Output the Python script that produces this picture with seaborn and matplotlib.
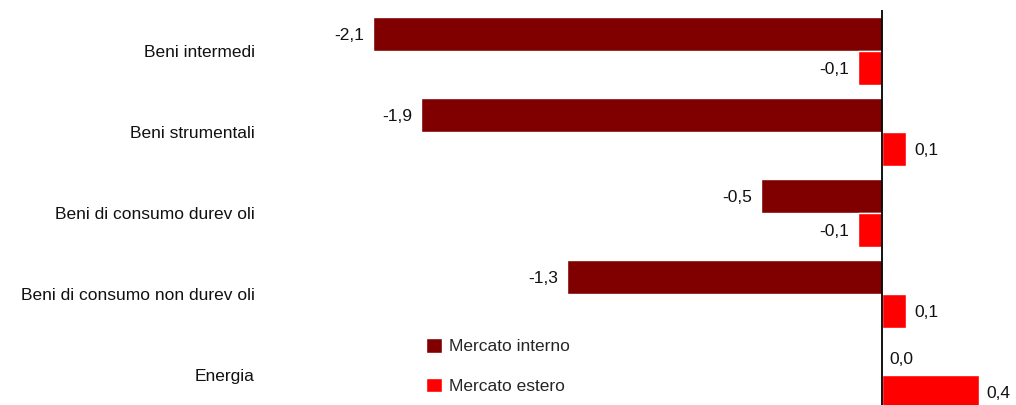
import matplotlib
matplotlib.use("Agg")
import matplotlib.pyplot as plt
import seaborn as sns
import pandas as pd

categories = ["Beni intermedi", "Beni strumentali", "Beni di consumo durev oli",
              "Beni di consumo non durev oli", "Energia"]
series_names = ["Mercato interno", "Mercato estero"]
interno = [-2.1, -1.9, -0.5, -1.3, 0.0]
estero = [-0.1, 0.1, -0.1, 0.1, 0.4]
colors = ["#800000", "#FF0000"]

sns.set_theme(style="white")
plt.rcParams["font.family"] = ["Liberation Sans", "DejaVu Sans"]

df = pd.DataFrame({
    "categoria": categories * 2,
    "serie": [series_names[0]] * len(categories) + [series_names[1]] * len(categories),
    "valore": interno + estero,
})

W, H = 1016, 405
FS = 12.5
fig = plt.figure(figsize=(W / 100, H / 100), dpi=100)
ax = fig.add_axes([270 / W, 0, (W - 270) / W, 395 / H])

sns.barplot(data=df, y="categoria", x="valore", hue="serie", orient="h",
            palette=colors, width=0.84, dodge=True, saturation=1,
            errorbar=None, ax=ax)

ppu = 242.5
ax.set_xlim(-(882 - 270) / ppu, (W - 882) / ppu)
ax.set_ylim((405 - 51) / 81, -41 / 81)

ax.axvline(0, color="black", lw=1.3, zorder=5)

for spine in ax.spines.values():
    spine.set_visible(False)
ax.set_xticks([])
ax.set_xlabel("")
ax.set_ylabel("")
ax.tick_params(axis="y", length=0, pad=11, labelsize=FS, labelcolor="#111111")

for cont, vals in zip(ax.containers, [interno, estero]):
    for patch, v in zip(cont.patches, vals):
        yc = patch.get_y() + patch.get_height() / 2
        txt = f"{v:.1f}".replace(".", ",")
        if v < 0:
            ax.annotate(txt, (v, yc), xytext=(-6.5, 0), textcoords="offset points",
                        ha="right", va="center_baseline", fontsize=FS, color="#111111")
        else:
            ax.annotate(txt, (v, yc), xytext=(5.5, 0), textcoords="offset points",
                        ha="left", va="center_baseline", fontsize=FS, color="#111111")

ax.legend(loc="upper left", bbox_to_anchor=(426 / W, 1 - 338 / H),
          bbox_transform=fig.transFigure, frameon=False, fontsize=FS,
          handlelength=0.92, handleheight=0.92, handletextpad=0.4,
          labelspacing=1.35, borderpad=0, borderaxespad=0, title=None)

fig.savefig("out.png", dpi=100)
